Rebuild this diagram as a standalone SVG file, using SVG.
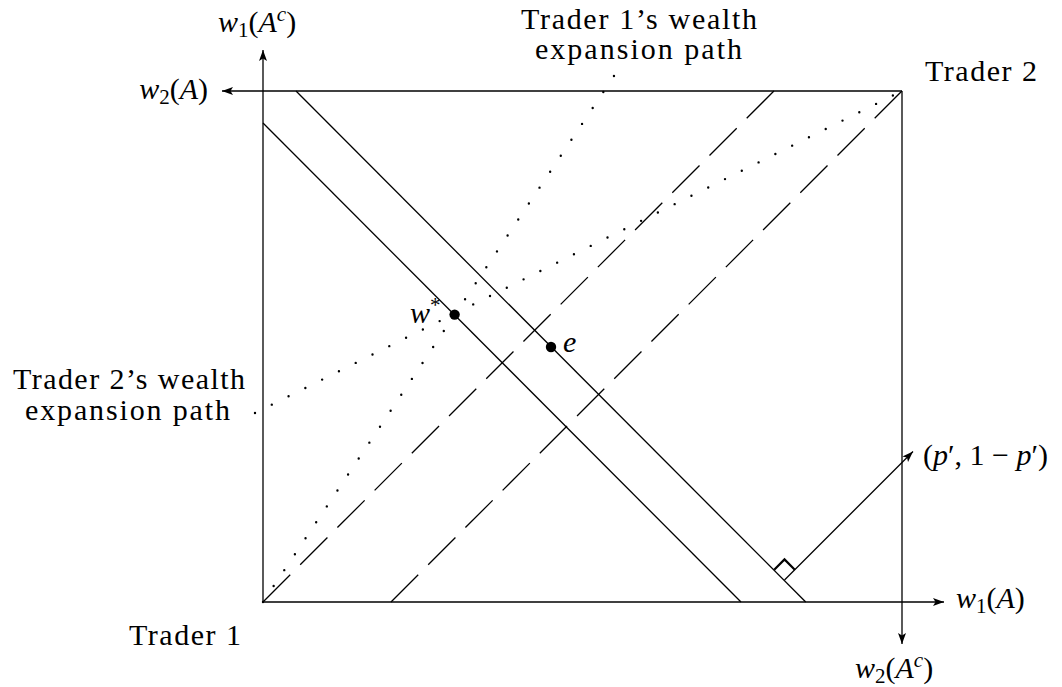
<svg xmlns="http://www.w3.org/2000/svg" width="1062" height="687" viewBox="0 0 1062 687">
  <style>
    .ln { stroke: #000; stroke-width: 1.3; fill: none; }
    .ax { stroke: #000; stroke-width: 1.3; fill: none; marker-end: url(#arr); }
    .dash { stroke: #000; stroke-width: 1.3; fill: none; stroke-dasharray: 38.5 14.12; }
    .dot1 { stroke: #000; stroke-width: 2.4; fill: none; stroke-linecap: round; stroke-dasharray: 0 19.16; }
    .dot2 { stroke: #000; stroke-width: 2.4; fill: none; stroke-linecap: round; stroke-dasharray: 0 18.75; }
    .ra { stroke: #000; stroke-width: 2.2; fill: none; }
    .t { font-family: 'Liberation Serif', 'DejaVu Serif', serif; font-size: 30px; fill: #000; }
    .i { font-style: italic; }
    .sub { font-size: 21px; }
  </style>
  <defs>
    <marker id="arr" markerUnits="userSpaceOnUse" viewBox="-12 -5 13 10" markerWidth="13" markerHeight="10" refX="0" refY="0" orient="auto">
      <path d="M0,0 L-11,-4 L-8.5,0 L-11,4 Z" fill="#000"/>
    </marker>
  </defs>

  <g id="connectors">
    <line class="ax" x1="263" y1="602" x2="263" y2="50"/>
    <line class="ax" x1="902" y1="91" x2="222" y2="91"/>
    <line class="ax" x1="263" y1="602" x2="944" y2="602"/>
    <line class="ax" x1="902" y1="91" x2="902" y2="644"/>
    <line class="ln" x1="296" y1="91" x2="805.7" y2="602"/>
    <line class="ln" x1="263" y1="123" x2="741" y2="602"/>
    <line class="dash" x1="263" y1="602" x2="774" y2="91"/>
    <line class="dash" x1="391" y1="602" x2="902" y2="91"/>
    <line class="dot1" x1="263" y1="602" x2="614" y2="76"/>
    <line class="dot2" x1="255" y1="413" x2="902" y2="91"/>
    <line class="ax" x1="784.5" y1="580" x2="913" y2="451.5"/>
    <path class="ra" d="M774.2,569.7 L784.5,559.4 L794.8,569.7"/>
  </g>

  <g id="point-wstar">
    <circle cx="454.6" cy="314.6" r="5.2" fill="#000"/>
    <text class="t" x="410" y="323"><tspan class="i">w</tspan><tspan class="sub" dy="-11">*</tspan></text>
  </g>
  <g id="point-e">
    <circle cx="551" cy="347" r="5.2" fill="#000"/>
    <text class="t i" x="563" y="352">e</text>
  </g>

  <g id="label-w1Ac">
    <text class="t" x="218" y="32"><tspan class="i">w</tspan><tspan class="sub" dy="5">1</tspan><tspan dy="-5">(</tspan><tspan class="i">A</tspan><tspan class="sub i" dy="-11">c</tspan><tspan dy="11">)</tspan></text>
  </g>
  <g id="label-w2A">
    <text class="t" x="208" y="99" text-anchor="end"><tspan class="i">w</tspan><tspan class="sub" dy="5">2</tspan><tspan dy="-5">(</tspan><tspan class="i">A</tspan><tspan>)</tspan></text>
  </g>
  <g id="label-w1A">
    <text class="t" x="956" y="608"><tspan class="i">w</tspan><tspan class="sub" dy="5">1</tspan><tspan dy="-5">(</tspan><tspan class="i">A</tspan><tspan>)</tspan></text>
  </g>
  <g id="label-w2Ac">
    <text class="t" x="855" y="678"><tspan class="i">w</tspan><tspan class="sub" dy="5">2</tspan><tspan dy="-5">(</tspan><tspan class="i">A</tspan><tspan class="sub i" dy="-11">c</tspan><tspan dy="11">)</tspan></text>
  </g>
  <g id="label-p">
    <text class="t" x="923" y="465">(<tspan class="i">p</tspan>′, 1 − <tspan class="i">p</tspan>′)</text>
  </g>

  <g id="label-trader1">
    <text class="t" x="129" y="645" textLength="112" lengthAdjust="spacing">Trader 1</text>
  </g>
  <g id="label-trader2">
    <text class="t" x="925" y="81" textLength="112" lengthAdjust="spacing">Trader 2</text>
  </g>
  <g id="label-path1">
    <text class="t" x="521" y="29" textLength="236" lengthAdjust="spacing">Trader 1’s wealth</text>
    <text class="t" x="535" y="59" textLength="207" lengthAdjust="spacing">expansion path</text>
  </g>
  <g id="label-path2">
    <text class="t" x="13" y="389" textLength="232" lengthAdjust="spacing">Trader 2’s wealth</text>
    <text class="t" x="25" y="420" textLength="205" lengthAdjust="spacing">expansion path</text>
  </g>
</svg>
